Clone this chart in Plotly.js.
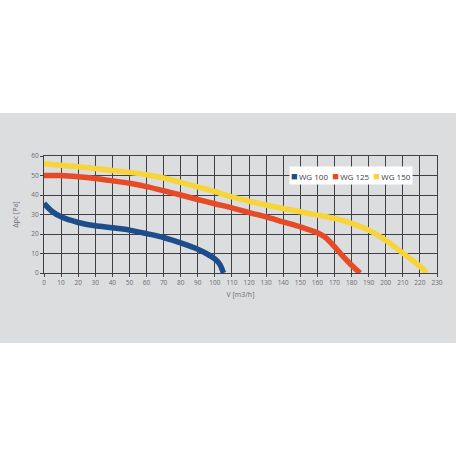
<!DOCTYPE html>
<html>
<head>
<meta charset="utf-8">
<script src="https://cdn.plot.ly/plotly-3.0.1.min.js"></script>
<style>
  body { margin: 0; background: #fff; }
  #chart {
    width: 456px; height: 456px;
    background: linear-gradient(to bottom, #fff 113px, #dcdddf 113px, #dcdddf 343px, #fff 343px);
  }
</style>
</head>
<body>
<div id="chart"></div>
<script>
// curves, V in m3/h, dpc in Pa
var names = ["WG 100", "WG 125", "WG 150"];
var colors = ["#1d4d8b", "#e64a27", "#f6d43a"];

var wg100X = [0, 5, 10, 20, 30, 40, 50, 60, 70, 80, 90, 95, 100, 103, 105];
var wg100Y = [35.7, 31.4, 28.8, 25.9, 24.2, 23.2, 22, 20.2, 18.2, 15.4, 12.2, 10, 7.2, 4.3, 0];

var wg125X = [0, 10, 20, 30, 40, 50, 60, 70, 80, 90, 100, 110, 120, 130, 140, 150, 160, 165, 170, 175, 180, 185];
var wg125Y = [50, 50, 49.4, 48.5, 47.3, 46, 44.3, 42.2, 40, 37.7, 35.5, 33.4, 31, 28.8, 26.2, 23.7, 20.6, 18, 13.5, 8.5, 4, 0];

var wg150X = [0, 10, 20, 30, 40, 50, 60, 70, 80, 90, 100, 110, 120, 130, 140, 150, 160, 170, 180, 190, 200, 210, 220, 224];
var wg150Y = [56, 55.3, 54.5, 53.6, 52.6, 51.6, 50.4, 48.7, 46.5, 44.2, 41.7, 39, 36.8, 34.9, 33.1, 31.4, 29.7, 28, 25.5, 22, 16.8, 10.2, 3.5, 0];

var xs = [wg100X, wg125X, wg150X];
var ys = [wg100Y, wg125Y, wg150Y];

var data = [];
for (var i = 0; i < names.length; i++) {
	data.push({
		x: xs[i],
		y: ys[i],
		name: names[i],
		type: 'scatter',
		mode: 'lines',
		line: {color: colors[i], width: 5.5, shape: 'spline', smoothing: 0.8},
		showlegend: false
	});
}

// legend as one white box with coloured squares
var legText = [];
for (var i = 0; i < names.length; i++) {
	legText.push("<span style='color:" + colors[i] + ";font-size:11px'>■</span>\u2009" + names[i]);
}

var axisStyle = {
	showgrid: true,
	gridcolor: '#3f4043',
	gridwidth: 1,
	showline: true,
	linecolor: '#3f4043',
	linewidth: 1,
	mirror: true,
	zeroline: false,
	ticks: 'outside',
	ticklen: 3,
	tickcolor: '#3f4043',
	tickfont: {family: 'Open Sans', size: 6.5, color: '#6d6e71'},
	dtick: 10
};

var layout = {
	width: 456,
	height: 456,
	margin: {l: 44, r: 19, t: 156, b: 183},
	paper_bgcolor: 'rgba(0,0,0,0)',
	plot_bgcolor: 'rgba(0,0,0,0)',
	showlegend: false,
	xaxis: Object.assign({}, axisStyle, {
		range: [0, 230],
		title: {text: 'V [m3/h]', font: {family: 'Open Sans', size: 7, color: '#6d6e71'}, standoff: 6}
	}),
	yaxis: Object.assign({}, axisStyle, {
		range: [0, 60],
		title: {text: 'Δpc [Pa]', font: {family: 'Open Sans', size: 7, color: '#6d6e71'}, standoff: 11}
	}),
	annotations: [{
		xref: 'paper', yref: 'paper',
		x: 0.624, y: 0.915,
		xanchor: 'left', yanchor: 'top',
		text: legText.join('  '),
		showarrow: false,
		bgcolor: '#ffffff',
		borderpad: 1,
		font: {family: 'Open Sans', size: 8, color: '#3a3a3c'}
	}]
};

Plotly.newPlot('chart', data, layout, {displayModeBar: false, staticPlot: true});
</script>
</body>
</html>
